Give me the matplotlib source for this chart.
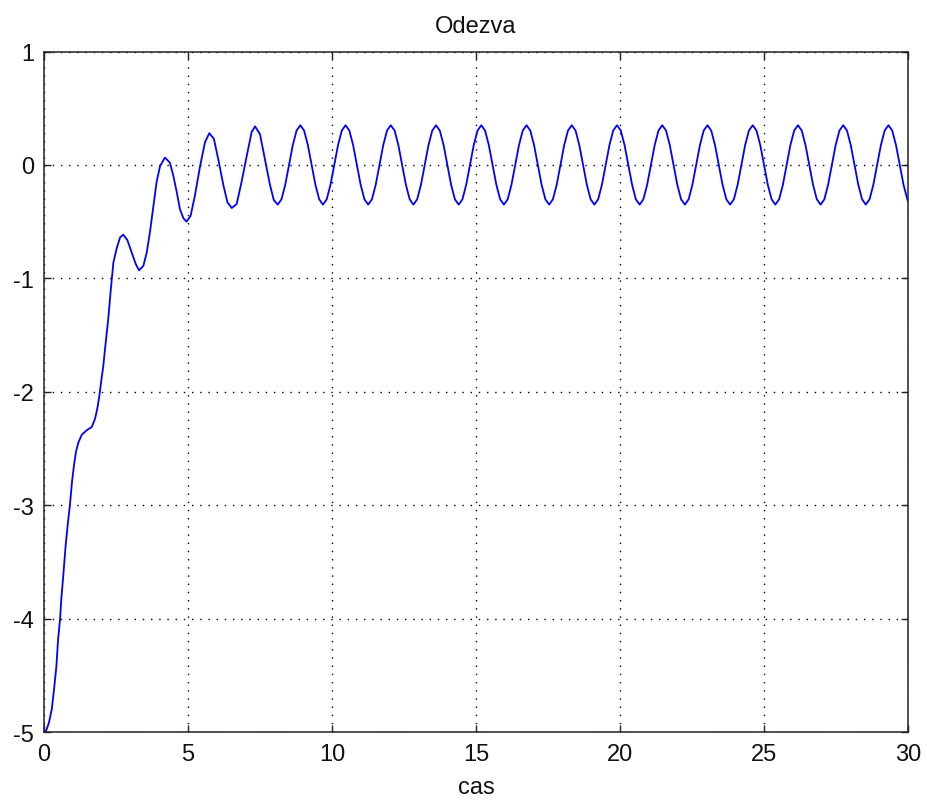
import matplotlib
matplotlib.use("Agg")
import matplotlib.pyplot as plt
import numpy as np

plt.rcParams['font.family'] = ['Liberation Sans', 'DejaVu Sans']

title = "Odezva"
xlabel = "cas"
x_ticks = [0, 5, 10, 15, 20, 25, 30]
y_ticks = [-5, -4, -3, -2, -1, 0, 1]

# transient part of the response
t_transient = [0.00, 0.07, 0.17, 0.27, 0.35, 0.43, 0.49, 0.56, 0.60, 0.67, 0.75, 0.82,
               0.90, 0.97, 1.04, 1.11, 1.19, 1.31, 1.48, 1.66, 1.77, 1.85, 1.92, 1.98,
               2.06, 2.12, 2.18, 2.23, 2.33, 2.41, 2.52, 2.64, 2.75, 2.89, 3.04, 3.18,
               3.30, 3.45, 3.57, 3.68, 3.80, 3.91, 4.03, 4.20, 4.37, 4.49, 4.61, 4.72,
               4.84, 4.95, 5.09, 5.24, 5.42, 5.59, 5.74, 5.90, 6.05, 6.23, 6.37, 6.52,
               6.69, 6.86, 7.04, 7.21, 7.33, 7.50, 7.67, 7.85, 7.98]
y_transient = [-5.00, -4.99, -4.92, -4.80, -4.62, -4.42, -4.18, -4.00, -3.83, -3.62, -3.36, -3.18,
               -3.00, -2.80, -2.65, -2.53, -2.45, -2.38, -2.34, -2.31, -2.24, -2.15, -2.04, -1.92,
               -1.77, -1.62, -1.48, -1.36, -1.07, -0.86, -0.74, -0.64, -0.615, -0.66, -0.77, -0.87,
               -0.93, -0.89, -0.77, -0.59, -0.36, -0.15, -0.01, 0.065, 0.02, -0.095, -0.24, -0.39,
               -0.47, -0.50, -0.45, -0.27, -0.01, 0.20, 0.28, 0.23, 0.05, -0.18, -0.33, -0.38,
               -0.345, -0.15, 0.08, 0.29, 0.34, 0.27, 0.05, -0.18, -0.31]

# steady oscillation part
t_steady = [
    8.115, 8.246, 8.377, 8.508, 8.639, 8.770, 8.900, 9.031, 9.162, 9.293, 9.424, 9.555,
    9.686, 9.817, 9.948, 10.079, 10.210, 10.340, 10.471, 10.602, 10.733, 10.864, 10.995, 11.126,
    11.257, 11.388, 11.518, 11.649, 11.780, 11.911, 12.042, 12.173, 12.304, 12.435, 12.566, 12.697,
    12.827, 12.958, 13.089, 13.220, 13.351, 13.482, 13.613, 13.744, 13.875, 14.006, 14.136, 14.267,
    14.398, 14.529, 14.660, 14.791, 14.922, 15.053, 15.184, 15.314, 15.445, 15.576, 15.707, 15.838,
    15.969, 16.100, 16.231, 16.362, 16.493, 16.624, 16.754, 16.885, 17.016, 17.147, 17.278, 17.409,
    17.540, 17.671, 17.802, 17.932, 18.063, 18.194, 18.325, 18.456, 18.587, 18.718, 18.849, 18.980,
    19.111, 19.242, 19.372, 19.503, 19.634, 19.765, 19.896, 20.027, 20.158, 20.289, 20.420, 20.550,
    20.681, 20.812, 20.943, 21.074, 21.205, 21.336, 21.467, 21.598, 21.728, 21.859, 21.990, 22.121,
    22.252, 22.383, 22.514, 22.645, 22.776, 22.907, 23.038, 23.168, 23.299, 23.430, 23.561, 23.692,
    23.823, 23.954, 24.085, 24.216, 24.346, 24.477, 24.608, 24.739, 24.870, 25.001, 25.132, 25.263,
    25.394, 25.525, 25.656, 25.786, 25.917, 26.048, 26.179, 26.310, 26.441, 26.572, 26.703, 26.834,
    26.965, 27.096, 27.226, 27.357, 27.488, 27.619, 27.750, 27.881, 28.012, 28.143, 28.274, 28.405,
    28.535, 28.666, 28.797, 28.928, 29.059, 29.190, 29.321, 29.452, 29.583, 29.714, 29.845, 29.976,
    30.000]
y_steady = [
    -0.35, -0.303, -0.175, 0.0, 0.175, 0.303, 0.35, 0.303, 0.175, 0.0, -0.175, -0.303,
    -0.35, -0.303, -0.175, 0.0, 0.175, 0.303, 0.35, 0.303, 0.175, 0.0, -0.175, -0.303,
    -0.35, -0.303, -0.175, 0.0, 0.175, 0.303, 0.35, 0.303, 0.175, 0.0, -0.175, -0.303,
    -0.35, -0.303, -0.175, 0.0, 0.175, 0.303, 0.35, 0.303, 0.175, 0.0, -0.175, -0.303,
    -0.35, -0.303, -0.175, 0.0, 0.175, 0.303, 0.35, 0.303, 0.175, 0.0, -0.175, -0.303,
    -0.35, -0.303, -0.175, 0.0, 0.175, 0.303, 0.35, 0.303, 0.175, 0.0, -0.175, -0.303,
    -0.35, -0.303, -0.175, 0.0, 0.175, 0.303, 0.35, 0.303, 0.175, 0.0, -0.175, -0.303,
    -0.35, -0.303, -0.175, 0.0, 0.175, 0.303, 0.35, 0.303, 0.175, 0.0, -0.175, -0.303,
    -0.35, -0.303, -0.175, 0.0, 0.175, 0.303, 0.35, 0.303, 0.175, 0.0, -0.175, -0.303,
    -0.35, -0.303, -0.175, 0.0, 0.175, 0.303, 0.35, 0.303, 0.175, 0.0, -0.175, -0.303,
    -0.35, -0.303, -0.175, 0.0, 0.175, 0.303, 0.35, 0.303, 0.175, 0.0, -0.175, -0.303,
    -0.35, -0.303, -0.175, 0.0, 0.175, 0.303, 0.35, 0.303, 0.175, 0.0, -0.175, -0.303,
    -0.35, -0.303, -0.175, 0.0, 0.175, 0.303, 0.35, 0.303, 0.175, 0.0, -0.175, -0.303,
    -0.35, -0.303, -0.175, 0.0, 0.175, 0.303, 0.35, 0.303, 0.175, 0.0, -0.175, -0.303,
    -0.32]

t = np.array(t_transient + t_steady)
y = np.array(y_transient + y_steady)

W, H = 927, 803
fig = plt.figure(figsize=(W / 100, H / 100), dpi=100)
ax = fig.add_axes([44 / W, 1 - 733 / H, 864 / W, 680.5 / H])

ax.plot(t, y, color='#0000FF', linewidth=1.3, solid_joinstyle='round')

ax.set_xlim(0, 30)
ax.set_ylim(-5, 1)
ax.set_xticks(x_ticks)
ax.set_yticks(y_ticks)
ax.set_xticklabels([str(v) for v in x_ticks])
ax.set_yticklabels([str(v) for v in y_ticks])

ax.grid(True, color='black', linestyle=(0, (1, 4.9)), linewidth=1.0)
for s in ax.spines.values():
    s.set_linewidth(1.1)
    s.set_color('#222222')

ax.tick_params(direction='in', length=5, width=1.0, top=True, right=True,
               labelsize=17, color='#222222', labelcolor='#111111')
ax.tick_params(axis='x', pad=8)
ax.tick_params(axis='y', pad=7)

ax.set_title(title, fontsize=17, pad=14, color='#111111')
ax.set_xlabel(xlabel, fontsize=17, labelpad=8, color='#111111')

fig.savefig("out.png", dpi=100)
